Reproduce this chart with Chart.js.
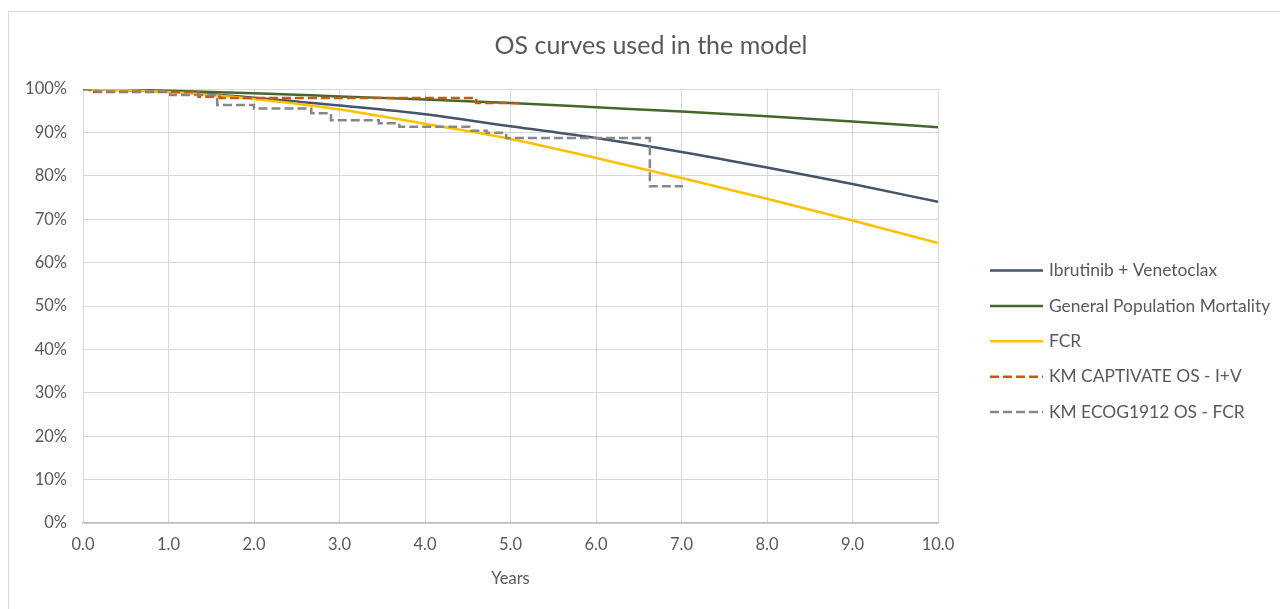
<!DOCTYPE html>
<html>
<head>
<meta charset="utf-8">
<script src="https://cdn.jsdelivr.net/npm/chart.js@4.4.1/dist/chart.umd.min.js"></script>
<style>
  html, body { margin: 0; padding: 0; background: #fff; }
  #wrap { width: 1280px; height: 609px; position: relative; }
</style>
</head>
<body>
<div id="wrap"><canvas id="os-chart" width="1280" height="609"></canvas></div>
<script>
// Fitted curves, read at whole years
var years = [0, 1, 2, 3, 4, 5, 6, 7, 8, 9, 10];
var ibrVen = [100, 99.4, 98.0, 96.2, 94.2, 91.4, 88.7, 85.5, 81.9, 78.1, 74.0];
var genPop = [100, 99.6, 99.0, 98.3, 97.6, 96.8, 95.8, 94.8, 93.7, 92.5, 91.2];
var fcr    = [100, 99.3, 97.7, 95.3, 92.0, 88.5, 84.1, 79.5, 74.7, 69.7, 64.5];

// Kaplan-Meier steps (time, survival after the step)
var kmCaptTime = [0, 0.08, 1.35, 1.6, 4.6, 5.1];
var kmCaptSurv = [100, 99.3, 98.2, 97.9, 96.8, 96.8];
var kmEcogTime = [0, 0.15, 1.02, 1.57, 2.0, 2.67, 2.9, 3.46, 3.7, 4.52, 4.72, 4.95, 6.63, 7.02];
var kmEcogSurv = [100, 99.4, 98.6, 96.3, 95.5, 94.4, 92.8, 92.1, 91.3, 90.4, 89.9, 88.7, 77.6, 77.6];

var xTicks = [0, 1, 2, 3, 4, 5, 6, 7, 8, 9, 10];
var yTicks = [0, 10, 20, 30, 40, 50, 60, 70, 80, 90, 100];

var chartTitle = 'OS curves used in the model';
var textColor = '#595959';
var fontFamily = 'Lato, "Open Sans", sans-serif';

function pts(xs, ys) {
    return xs.map(function (x, i) { return { x: x, y: ys[i] }; });
}

// frame, title and legend
var decor = {
    id: 'decor',
    beforeDraw: function (chart) {
        var ctx = chart.ctx;
        ctx.save();
        ctx.fillStyle = '#fff';
        ctx.fillRect(0, 0, chart.width, chart.height);
        ctx.strokeStyle = '#D9D9D9';
        ctx.lineWidth = 1;
        ctx.strokeRect(8.5, 11.5, 1400, 800);
        ctx.restore();
    },
    afterDraw: function (chart) {
        var ctx = chart.ctx;
        ctx.save();
        ctx.fillStyle = textColor;
        ctx.font = '25px ' + fontFamily;
        ctx.textAlign = 'center';
        ctx.textBaseline = 'middle';
        ctx.fillText(chartTitle, 651, 46);

        ctx.font = '17.4px ' + fontFamily;
        ctx.textAlign = 'left';
        chart.data.datasets.forEach(function (ds, i) {
            var y = 270.5 + i * 35.4;
            ctx.beginPath();
            ctx.strokeStyle = ds.borderColor;
            ctx.lineWidth = 2.5;
            ctx.setLineDash(ds.borderDash || []);
            ctx.moveTo(990, y);
            ctx.lineTo(1043, y);
            ctx.stroke();
            ctx.setLineDash([]);
            ctx.fillStyle = textColor;
            ctx.fillText(ds.label, 1049, y);
        });
        ctx.restore();
    }
};

var ctx = document.getElementById('os-chart').getContext('2d');
var osChart = new Chart(ctx, {
    type: 'line',
    data: {
        datasets: [
            {
                label: 'Ibrutinib + Venetoclax',
                data: pts(years, ibrVen),
                borderColor: '#44546A',
                borderWidth: 2.5,
                cubicInterpolationMode: 'monotone',
                order: 3
            },
            {
                label: 'General Population Mortality',
                data: pts(years, genPop),
                borderColor: '#43682B',
                borderWidth: 2.5,
                cubicInterpolationMode: 'monotone',
                order: 2
            },
            {
                label: 'FCR',
                data: pts(years, fcr),
                borderColor: '#FFC000',
                borderWidth: 2.5,
                cubicInterpolationMode: 'monotone',
                order: 1
            },
            {
                label: 'KM CAPTIVATE OS - I+V',
                data: pts(kmCaptTime, kmCaptSurv),
                borderColor: '#C55A11',
                borderWidth: 2.5,
                borderDash: [9, 4],
                stepped: 'before',
                order: 0
            },
            {
                label: 'KM ECOG1912 OS - FCR',
                data: pts(kmEcogTime, kmEcogSurv),
                borderColor: '#878787',
                borderWidth: 2.5,
                borderDash: [9, 4],
                stepped: 'before',
                order: -1
            }
        ]
    },
    options: {
        responsive: false,
        animation: false,
        elements: { point: { radius: 0 } },
        layout: { padding: { left: 0, top: 89, right: 342, bottom: 0 } },
        plugins: {
            legend: { display: false },
            title: { display: false },
            tooltip: { enabled: false }
        },
        scales: {
            x: {
                type: 'linear',
                min: 0,
                max: 10,
                afterBuildTicks: function (axis) {
                    axis.ticks = xTicks.map(function (v) { return { value: v }; });
                },
                ticks: {
                    color: textColor,
                    font: { family: fontFamily, size: 16.5 },
                    padding: 12,
                    maxRotation: 0,
                    callback: function (v) { return Number(v).toFixed(1); }
                },
                grid: { color: '#D9D9D9', drawTicks: false },
                border: { color: '#BFBFBF', width: 1.5 },
                title: {
                    display: true,
                    text: 'Years',
                    color: textColor,
                    font: { family: fontFamily, size: 16.5 },
                    padding: { top: 0, bottom: 20 }
                },
                afterFit: function (axis) { axis.height = 86; }
            },
            y: {
                min: 0,
                max: 100,
                afterBuildTicks: function (axis) {
                    axis.ticks = yTicks.map(function (v) { return { value: v }; });
                },
                ticks: {
                    color: textColor,
                    font: { family: fontFamily, size: 16.5 },
                    padding: 16,
                    callback: function (v) { return v + '%'; }
                },
                grid: { color: '#D9D9D9', drawTicks: false },
                border: { color: '#D9D9D9' },
                afterFit: function (axis) { axis.width = 83; }
            }
        }
    },
    plugins: [decor]
});
</script>
</body>
</html>
